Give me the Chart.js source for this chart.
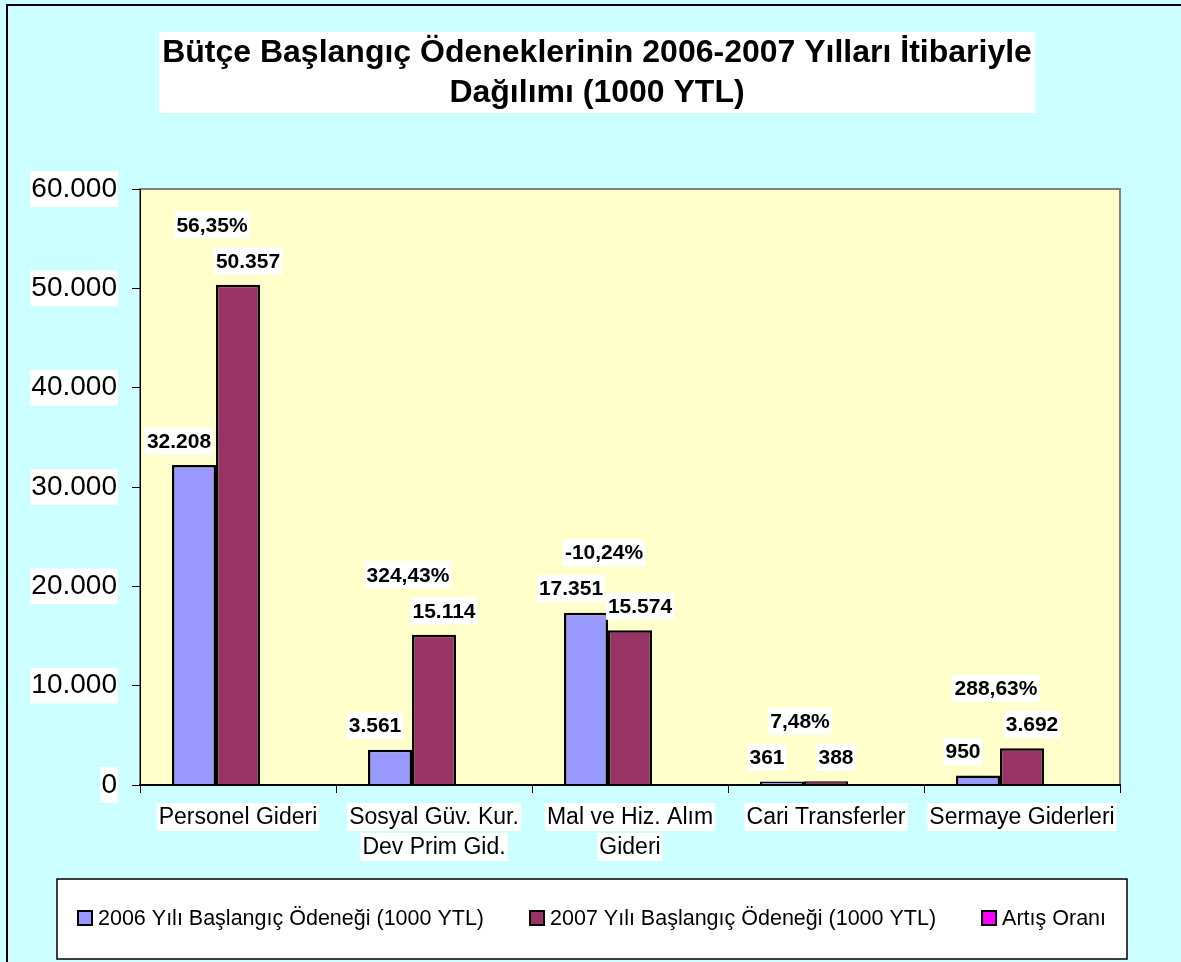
<!DOCTYPE html>
<html>
<head>
<meta charset="utf-8">
<script src="https://cdn.jsdelivr.net/npm/chart.js@4"></script>
<style>
  body { margin: 0; background: #CCFFFF; }
  canvas { display: block; }
</style>
</head>
<body>
<canvas id="butceChart" width="1181" height="962"></canvas>
<script>
const titleLines = ['Bütçe Başlangıç Ödeneklerinin 2006-2007 Yılları İtibariyle', 'Dağılımı (1000 YTL)'];
const categories = ['Personel Gideri', ['Sosyal Güv. Kur.', 'Dev Prim Gid.'], ['Mal ve Hiz. Alım', 'Gideri'], 'Cari Transferler', 'Sermaye Giderleri'];
const seriesNames = ['2006 Yılı Başlangıç Ödeneği (1000 YTL)', '2007 Yılı Başlangıç Ödeneği (1000 YTL)', 'Artış Oranı'];
const values2006 = [32208, 3561, 17351, 361, 950];
const values2007 = [50357, 15114, 15574, 388, 3692];
const artisOrani = [0.5635, 3.2443, -0.1024, 0.0748, 2.8863];
const yMin = 0, yMax = 60000, yStep = 10000;

const FONT = "'Liberation Sans', Arial, sans-serif";

function fmtNum(n) {
    return String(Math.round(n)).replace(/\B(?=(\d{3})+(?!\d))/g, '.');
}
function fmtPct(v) {
    return (v * 100).toFixed(2).replace('.', ',') + '%';
}

function boxedText(ctx, text, x, y, h) {
    const w = ctx.measureText(text).width;
    ctx.fillStyle = '#FFFFFF';
    ctx.fillRect(x - w / 2 - 2, y - h / 2, w + 4, h);
    ctx.fillStyle = '#000000';
    ctx.fillText(text, x, y + 1);
}

// background, title, plot area and legend box
const decor = {
    id: 'decor',
    beforeDraw(chart) {
        const ctx = chart.ctx;
        const a = chart.chartArea;
        ctx.save();
        ctx.fillStyle = '#CCFFFF';
        ctx.fillRect(0, 0, chart.width, chart.height);
        ctx.strokeStyle = '#000';
        ctx.lineWidth = 2;
        ctx.strokeRect(7, 5, chart.width + 20, chart.height + 20);

        // title
        ctx.font = 'bold 32px ' + FONT;
        ctx.textAlign = 'center';
        ctx.textBaseline = 'middle';
        const tw = Math.max(...titleLines.map(t => ctx.measureText(t).width));
        const cx = 597;
        ctx.fillStyle = '#FFFFFF';
        ctx.fillRect(cx - tw / 2 - 3, 32, tw + 6, 81);
        ctx.fillStyle = '#000';
        titleLines.forEach((t, i) => ctx.fillText(t, cx, 53 + i * 40));

        // plot area
        ctx.fillStyle = '#FFFFCC';
        ctx.fillRect(a.left, a.top, a.right - a.left, a.bottom - a.top);
        ctx.strokeStyle = '#808080';
        ctx.lineWidth = 2;
        ctx.strokeRect(a.left, a.top, a.right - a.left, a.bottom - a.top);

        // legend
        ctx.fillStyle = '#FFFFFF';
        ctx.fillRect(57, 879, 1070, 80);
        ctx.strokeStyle = '#000';
        ctx.lineWidth = 1.5;
        ctx.strokeRect(57, 879, 1070, 80);
        ctx.font = '21.5px ' + FONT;
        ctx.textAlign = 'left';
        const ds = chart.data.datasets;
        const widths = ds.map(d => 14 + 6 + ctx.measureText(d.label).width);
        const gap = 46;
        const total = widths.reduce((s, w) => s + w, 0) + gap * (ds.length - 1);
        let x = 592 - total / 2;
        const ly = 918;
        ds.forEach((d, i) => {
            ctx.fillStyle = d.backgroundColor;
            ctx.fillRect(x, ly - 7, 14, 14);
            ctx.strokeStyle = '#000';
            ctx.lineWidth = 2;
            ctx.strokeRect(x, ly - 7, 14, 14);
            ctx.fillStyle = '#000';
            ctx.fillText(d.label, x + 20, ly + 1);
            x += widths[i] + gap;
        });
        ctx.restore();
    },
    afterDatasetsDraw(chart) {
        const ctx = chart.ctx;
        const m0 = chart.getDatasetMeta(0).data;
        const m1 = chart.getDatasetMeta(1).data;
        const pct = chart.data.datasets[2].data;
        ctx.save();
        ctx.textAlign = 'center';
        ctx.textBaseline = 'middle';

        // category labels, one white box per line
        const xs = chart.scales.x;
        ctx.font = '23px ' + FONT;
        chart.data.labels.forEach((lab, i) => {
            const lines = Array.isArray(lab) ? lab : [lab];
            const px = xs.getPixelForValue(i);
            lines.forEach((t, j) => boxedText(ctx, t, px, 817 + j * 30, 28));
        });

        // value labels
        ctx.font = 'bold 21px ' + FONT;
        m0.forEach((b0, i) => {
            const b1 = m1[i];
            boxedText(ctx, fmtNum(chart.data.datasets[0].data[i]), b0.x - 15, b0.y - 24, 27);
            boxedText(ctx, fmtNum(chart.data.datasets[1].data[i]), b1.x + 10, b1.y - 24, 27);
            boxedText(ctx, fmtPct(pct[i]), (b0.x + b1.x) / 2 - 4, Math.min(b0.y, b1.y) - 60, 27);
        });
        ctx.restore();
    }
};

new Chart(document.getElementById('butceChart'), {
    type: 'bar',
    data: {
        labels: categories,
        datasets: [{
            label: seriesNames[0],
            data: values2006,
            backgroundColor: '#9999FF',
            borderColor: '#000',
            borderWidth: 2.5
        }, {
            label: seriesNames[1],
            data: values2007,
            backgroundColor: '#993366',
            borderColor: '#000',
            borderWidth: 2.5
        }, {
            label: seriesNames[2],
            data: artisOrani,
            backgroundColor: '#FF00FF',
            borderWidth: 0
        }]
    },
    options: {
        responsive: false,
        animation: false,
        categoryPercentage: 0.6735,
        barPercentage: 1,
        layout: { padding: { top: 189, right: 61, left: 10, bottom: 77 } },
        plugins: {
            legend: { display: false },
            title: { display: false },
            tooltip: { enabled: false }
        },
        scales: {
            x: {
                afterFit: s => { s.height = 100; },
                grid: { drawOnChartArea: false, color: '#000', tickLength: 8 },
                border: { color: '#000', width: 2, z: 1 },
                ticks: { display: false }
            },
            y: {
                min: yMin,
                max: yMax,
                afterFit: s => { s.width = 130; },
                grid: { drawOnChartArea: false, color: '#000', tickLength: 8 },
                border: { color: '#000', width: 1 },
                ticks: {
                    stepSize: yStep,
                    color: '#000',
                    padding: 15,
                    font: { family: FONT, size: 28 },
                    showLabelBackdrop: true,
                    backdropColor: '#FFFFFF',
                    backdropPadding: 1,
                    callback: v => fmtNum(v)
                }
            }
        }
    },
    plugins: [decor]
});
</script>
</body>
</html>
